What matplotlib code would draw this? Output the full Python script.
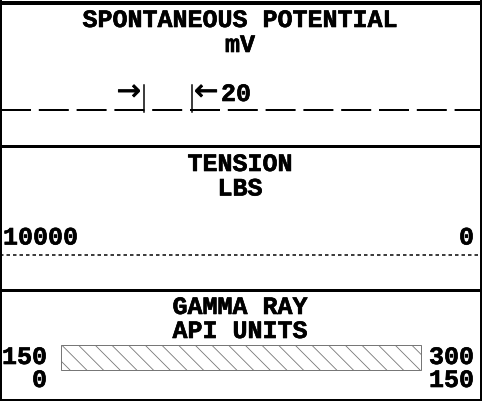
import matplotlib
matplotlib.use("Agg")
import matplotlib.pyplot as plt
from matplotlib.patches import Rectangle
import matplotlib.patheffects as pe

# ---- data ----
track_titles = ["SPONTANEOUS POTENTIAL", "TENSION", "GAMMA RAY"]
track_units = ["mV", "LBS", "API UNITS"]
sp_scale = 20
tension_scale = [10000, 0]
gr_scale_left = [150, 0]
gr_scale_right = [300, 150]

plt.rcParams['lines.scale_dashes'] = False
plt.rcParams['hatch.linewidth'] = 0.6
plt.rcParams['hatch.color'] = '#222222'

W, H = 482, 402
fig = plt.figure(figsize=(W / 100, H / 100), dpi=100)
ax = fig.add_axes([0, 0, 1, 1])
ax.set_xlim(0, W)
ax.set_ylim(H, 0)
ax.axis('off')

STROKE = [pe.withStroke(linewidth=0.45, foreground='black')]
FONT = dict(family=['Liberation Mono', 'DejaVu Sans Mono'], fontweight='bold', fontsize=18,
            color='black', path_effects=STROKE)
ARROW = dict(family=['DejaVu Sans'], fontweight='normal', fontsize=21, color='black',
             path_effects=[pe.withStroke(linewidth=0.5, foreground='black')])
PX = 0.72  # points per pixel

def hline(y, lw_px, **kw):
    ax.plot([0, W], [y, y], color='black', lw=lw_px * PX, solid_capstyle='butt', **kw)

# borders
hline(3.5, 4)
ax.plot([1, 1], [0, H], color='black', lw=2 * PX)
ax.plot([480.5, 480.5], [0, H], color='black', lw=2 * PX)
hline(147, 3)
hline(290.5, 3)
hline(400.5, 3)

# --- SP track ---
cx = 240
ax.text(cx, 28, track_titles[0], ha='center', va='baseline', **FONT)
ax.text(cx, 53, track_units[0], ha='center', va='baseline', **FONT)
ln, = ax.plot([1.2, W], [111, 111], color='black', lw=2 * PX, solid_capstyle='butt')
ln.set_dashes((30 * PX, 7.8 * PX))
ln.set_dash_capstyle('butt')
ax.plot([144, 144], [86, 113], color='black', lw=1.5 * PX)
ax.plot([192, 192], [86, 113], color='black', lw=1.5 * PX)
ax.text(141, 101, "\u2192", ha='right', va='baseline', **ARROW)
ax.text(194, 101, "\u2190", ha='left', va='baseline', **ARROW)
ax.text(221, 102, str(sp_scale), ha='left', va='baseline', **FONT)

# --- Tension track ---
ax.text(cx, 172, track_titles[1], ha='center', va='baseline', **FONT)
ax.text(cx, 196.5, track_units[1], ha='center', va='baseline', **FONT)
ax.text(3, 245.5, str(tension_scale[0]), ha='left', va='baseline', **FONT)
ax.text(474, 245.5, str(tension_scale[1]), ha='right', va='baseline', **FONT)
dl, = ax.plot([0, W], [255.5, 255.5], color='black', lw=1.5 * PX)
dl.set_dashes((3.5 * PX, 3 * PX))

# --- Gamma ray track ---
ax.text(cx, 315, track_titles[2], ha='center', va='baseline', **FONT)
ax.text(cx, 339, track_units[2], ha='center', va='baseline', **FONT)
ax.add_patch(Rectangle((60.5, 346), 360.5, 25, facecolor='white', edgecolor='#777777',
                       lw=1 * PX, hatch='\\\\'))
ax.text(47, 365, str(gr_scale_left[0]), ha='right', va='baseline', **FONT)
ax.text(47, 388, str(gr_scale_left[1]), ha='right', va='baseline', **FONT)
ax.text(474, 365, str(gr_scale_right[0]), ha='right', va='baseline', **FONT)
ax.text(474, 388, str(gr_scale_right[1]), ha='right', va='baseline', **FONT)

fig.savefig("out.png", dpi=100)
